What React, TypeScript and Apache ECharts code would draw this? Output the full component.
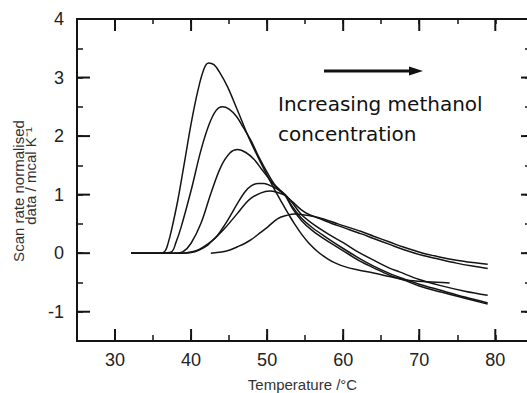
import React, { useEffect, useRef } from "react";
import * as echarts from "echarts";

// Temperature (°C), scan-rate normalised data (mcal K^-1)
const curve1: number[][] = [[32.1,0],[34,0],[36,0],[36.6,0.04],[37.0,0.18],[37.4,0.38],[38.25,0.9],[39.1,1.53],[40,2.21],[40.9,2.78],[41.7,3.15],[42.3,3.25],[43.0,3.22],[43.7,3.1],[44.8,2.84],[46.1,2.44],[47.5,2.0],[48.8,1.64],[50,1.33],[51,1.08],[52,0.85],[52.8,0.67],[53.6,0.5],[54.5,0.33],[55.5,0.17],[56.7,0.02],[58,-0.1],[59,-0.17],[60.2,-0.23],[61.7,-0.28],[64,-0.34],[66.1,-0.40],[68.3,-0.46],[71,-0.49],[74,-0.51]];
const curve2: number[][] = [[32.1,0],[36,0],[37.4,0.02],[38,0.18],[38.7,0.45],[40,1.07],[41.3,1.76],[42.4,2.21],[43.3,2.44],[44.1,2.5],[45,2.46],[46,2.33],[46.8,2.16],[47.9,1.92],[48.8,1.67],[50,1.38],[51,1.17],[52.3,1.0],[53.3,0.77],[54.5,0.56],[56,0.38],[58,0.2],[60,0.04],[62.4,-0.15],[64,-0.25],[66,-0.37],[68,-0.46],[70,-0.56],[72.7,-0.66],[76,-0.77],[79,-0.87]];
const curve3: number[][] = [[32.1,0],[38,0],[38.9,0.02],[40,0.17],[41.3,0.51],[42.6,1.02],[43.9,1.47],[45.1,1.71],[46.1,1.77],[47.2,1.72],[48.3,1.6],[49.3,1.43],[50.5,1.23],[51.5,1.08],[52.3,1.0],[53.3,0.8],[54.5,0.6],[56,0.43],[58,0.25],[60,0.08],[62.4,-0.11],[64,-0.22],[66,-0.34],[68,-0.44],[70,-0.53],[72.7,-0.63],[76,-0.75],[79,-0.85]];
const curve4: number[][] = [[32.1,0],[39,0],[40,0.02],[41,0.06],[42,0.14],[43.1,0.25],[44,0.4],[44.8,0.56],[46.1,0.85],[47.1,1.05],[47.9,1.15],[48.8,1.19],[49.6,1.19],[50.5,1.15],[51.4,1.09],[52.3,1.01],[53.3,0.86],[54.5,0.66],[56,0.5],[58,0.33],[60,0.18],[61.7,0.04],[64,-0.12],[66,-0.25],[67.4,-0.32],[70,-0.45],[72.7,-0.55],[76,-0.65],[79,-0.72]];
const curve5: number[][] = [[32.1,0],[39,0],[40,0.01],[41,0.05],[42,0.12],[42.6,0.19],[43.5,0.3],[44.4,0.42],[46.1,0.68],[47.1,0.84],[47.9,0.94],[49.2,1.03],[50.3,1.06],[51.3,1.04],[52.3,0.99],[53.3,0.88],[54.5,0.74],[55.5,0.66],[56.7,0.6],[59.3,0.47],[62.4,0.33],[64,0.25],[66.1,0.15],[68,0.06],[70.5,-0.04],[72.5,-0.1],[74.9,-0.17],[77,-0.22],[79,-0.26]];
const curve6: number[][] = [[42.6,0],[44,0.02],[45,0.05],[46.1,0.11],[47.1,0.17],[47.9,0.23],[49.2,0.36],[50.1,0.45],[51.4,0.59],[52.7,0.65],[53.6,0.67],[54.5,0.66],[56.7,0.61],[59.3,0.5],[62.4,0.37],[64,0.29],[66.1,0.19],[68,0.1],[70.5,0.0],[72.5,-0.06],[74.9,-0.12],[77,-0.16],[79,-0.19]];

const curves = [curve1, curve2, curve3, curve4, curve5, curve6];

const xMajorTicks = [30, 40, 50, 60, 70, 80];
const yMajorTicks = [-1, 0, 1, 2, 3, 4];

const xTitle = "Temperature /°C";
const yTitleLine1 = "Scan rate normalised";
const yTitleLine2 = "data / mcal K⁻¹";
const noteLine1 = "Increasing methanol";
const noteLine2 = "concentration";

export default function App() {
  const ref = useRef<HTMLDivElement>(null);

  useEffect(() => {
    const chart = echarts.init(ref.current!, undefined, { renderer: "svg" });
    const X_MIN = 25, X_MAX = 84.3, Y_MIN = -1.5, Y_MAX = 4;
    const ink = "#141414";

    const hidden = { show: false };
    const line = () => ({ show: true, onZero: false, lineStyle: { color: ink, width: 2 } });

    const xAxisBase = (position: string, len: number, withLabels: boolean) => ({
      type: "value", position, min: X_MIN, max: X_MAX, interval: 5,
      axisLine: line(),
      axisTick: { show: true, inside: true, length: len, lineStyle: { color: ink, width: 1.5 } },
      axisLabel: withLabels
        ? {
            formatter: (v: number) => (xMajorTicks.includes(v) ? String(v) : ""),
            margin: 10, fontSize: 18, color: "#222", fontFamily: "Liberation Sans",
          }
        : hidden,
      splitLine: hidden,
    });
    const yAxisBase = (position: string, len: number, withLabels: boolean) => ({
      type: "value", position, min: Y_MIN, max: Y_MAX, interval: 0.5,
      axisLine: line(),
      axisTick: { show: true, inside: true, length: len, lineStyle: { color: ink, width: 1.5 } },
      axisLabel: withLabels
        ? {
            formatter: (v: number) => (yMajorTicks.includes(v) ? String(v) : ""),
            margin: 13, fontSize: 18, color: "#222", fontFamily: "Liberation Sans",
          }
        : hidden,
      splitLine: hidden,
    });

    const xBottom: any = xAxisBase("bottom", 6, true);
    xBottom.name = xTitle;
    xBottom.nameLocation = "middle";
    xBottom.nameGap = 36;
    xBottom.nameTextStyle = { fontSize: 15, color: "#333", fontFamily: "Liberation Sans" };

    // long (major) ticks on all four sides, placed through the axis scales
    const majorTicks = {
      type: "custom", xAxisIndex: 0, yAxisIndex: 0, silent: true, z: 10, clip: false,
      data: [[X_MIN, Y_MIN]],
      renderItem: (_p: any, api: any) => {
        const children: any[] = [];
        const st = { fill: ink };
        xMajorTicks.forEach((v) => {
          const b = api.coord([v, Y_MIN]);
          const t = api.coord([v, Y_MAX]);
          children.push({ type: "rect", shape: { x: b[0] - 1, y: b[1] - 12, width: 2, height: 12 }, style: st });
          children.push({ type: "rect", shape: { x: t[0] - 1, y: t[1], width: 2, height: 12 }, style: st });
        });
        yMajorTicks.forEach((v) => {
          const l = api.coord([X_MIN, v]);
          const r = api.coord([X_MAX, v]);
          children.push({ type: "rect", shape: { x: l[0], y: l[1] - 1, width: 13, height: 2 }, style: st });
          children.push({ type: "rect", shape: { x: r[0] - 7, y: r[1] - 1, width: 7, height: 2 }, style: st });
        });
        return { type: "group", children };
      },
    };

    chart.setOption({
      animation: false,
      backgroundColor: "#ffffff",
      grid: { left: 77, right: -1, top: 19, bottom: 52, containLabel: false, outerBoundsMode: "none" },
      xAxis: [xBottom, xAxisBase("top", 5, false)],
      yAxis: [yAxisBase("left", 6, true), yAxisBase("right", 3, false)],
      series: [
        ...curves.map((c, i) => ({
          type: "line",
          name: "curve" + (i + 1),
          xAxisIndex: 0,
          yAxisIndex: 0,
          data: c,
          showSymbol: false,
          smooth: 0.35,
          lineStyle: { color: ink, width: 1.5 },
          silent: true,
        })),
        majorTicks,
      ],
      graphic: [
        {
          type: "text", x: 18.5, y: 191, rotation: Math.PI / 2,
          style: { text: yTitleLine1, fontSize: 15, fontFamily: "Liberation Sans", fill: "#333", align: "center", verticalAlign: "middle" },
        },
        {
          type: "text", x: 30.5, y: 176, rotation: Math.PI / 2,
          style: { text: yTitleLine2, fontSize: 15, fontFamily: "Liberation Sans", fill: "#333", align: "center", verticalAlign: "middle" },
        },
        {
          type: "text", x: 278, y: 104,
          style: { text: noteLine1, fontSize: 20, fontFamily: "DejaVu Sans", fill: "#111", align: "left", verticalAlign: "middle" },
        },
        {
          type: "text", x: 278, y: 134,
          style: { text: noteLine2, fontSize: 20, fontFamily: "DejaVu Sans", fill: "#111", align: "left", verticalAlign: "middle" },
        },
        {
          type: "line", shape: { x1: 324, y1: 71, x2: 412, y2: 71 },
          style: { stroke: "#111", lineWidth: 3 },
        },
        {
          type: "polygon", shape: { points: [[423, 71], [409, 66.5], [409, 75.5]] },
          style: { fill: "#111" },
        },
      ],
    });

    return () => chart.dispose();
  }, []);

  return (
    <div
      ref={ref}
      style={{ position: "fixed", left: 0, top: 0, width: 527, height: 393, background: "#fff" }}
    />
  );
}
